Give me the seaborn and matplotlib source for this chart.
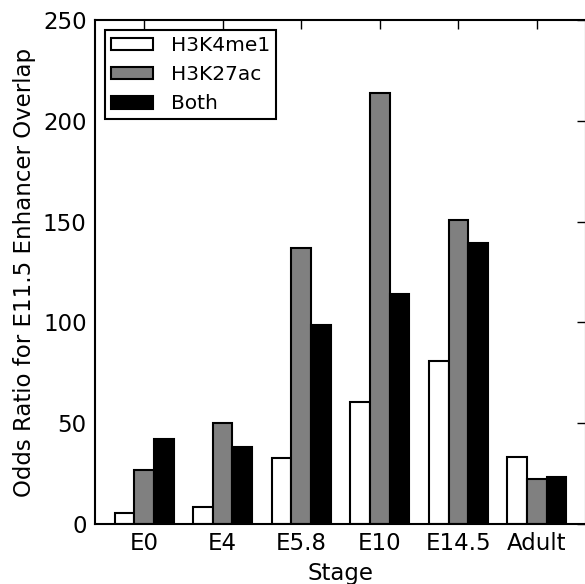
import numpy as np
import pandas as pd
import matplotlib
matplotlib.use("Agg")
import matplotlib.pyplot as plt
import seaborn as sns

# values
stages = ["E0", "E4", "E5.8", "E10", "E14.5", "Adult"]
marks = ["H3K4me1", "H3K27ac", "Both"]
h3k4me1 = [5.3, 8.4, 32.5, 60.6, 80.7, 33.1]
h3k27ac = [26.7, 50.0, 136.7, 213.7, 150.7, 22.5]
both = [42.1, 38.3, 98.9, 114.2, 139.2, 23.4]
colors = ["white", "#808080", "black"]

df = pd.DataFrame({
    "stage": stages * 3,
    "mark": [m for m in marks for _ in stages],
    "value": h3k4me1 + h3k27ac + both,
})

sns.set_style("white")
plt.rcParams.update({
    "font.family": ["DejaVu Sans"],
    "font.size": 16.5,
    "text.color": "black",
    "axes.labelcolor": "black",
    "xtick.labelcolor": "black",
    "ytick.labelcolor": "black",
    "xtick.direction": "in",
    "ytick.direction": "in",
    "xtick.top": True,
    "ytick.right": True,
    "xtick.major.size": 6.5,
    "ytick.major.size": 6.5,
    "xtick.major.width": 1.0,
    "ytick.major.width": 1.0,
    "xtick.color": "black",
    "ytick.color": "black",
    "axes.edgecolor": "black",
    "axes.linewidth": 1.5,
})

fig = plt.figure(figsize=(5.85, 5.84), dpi=100)
ax = fig.add_axes([95 / 585, 60 / 584, 491 / 585, 504 / 584])

sns.barplot(data=df, x="stage", y="value", hue="mark", order=stages,
            hue_order=marks, palette=colors, width=0.75, edgecolor="black",
            linewidth=1.5, saturation=1, errorbar=None, ax=ax)

ax.set_xlim(-0.625, 5.625)
ax.set_ylim(0, 250)
ax.set_yticks([0, 50, 100, 150, 200, 250])
ax.tick_params(labelsize=16.5, pad=6)
ax.set_xlabel("Stage", fontsize=16.5, labelpad=4.5)
ax.set_ylabel("Odds Ratio for E11.5 Enhancer Overlap", fontsize=16.5, labelpad=5)
for s in ax.spines.values():
    s.set_visible(True)

leg = ax.legend(loc="upper left", fontsize=14.5, fancybox=False, framealpha=1,
                edgecolor="black", borderaxespad=0.5, handlelength=2.1,
                handleheight=0.6, handletextpad=0.85, labelspacing=0.5,
                borderpad=0.3)
leg.get_frame().set_linewidth(1.5)

fig.savefig("out.png", dpi=100)
